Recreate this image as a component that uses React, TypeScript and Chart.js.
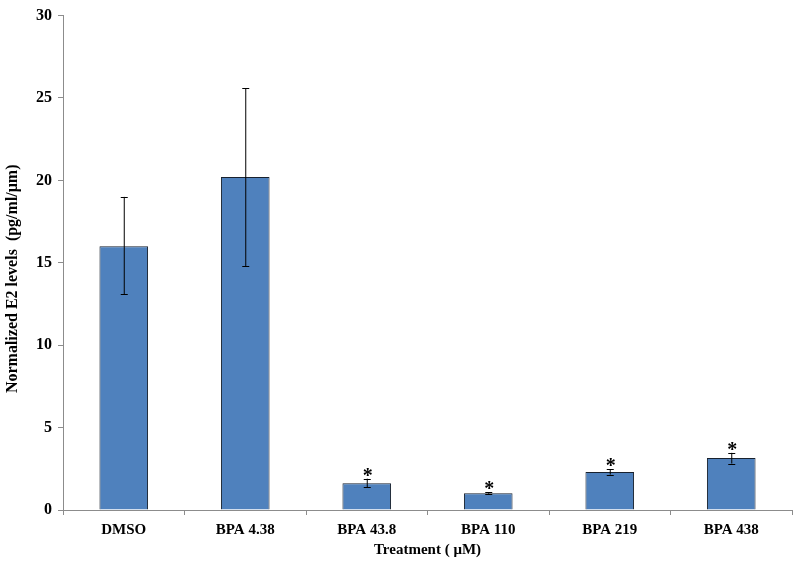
import React, { useEffect, useRef } from "react";
import { Chart, registerables } from "chart.js";

Chart.register(...registerables);

const categories = ["DMSO", "BPA 4.38", "BPA 43.8", "BPA 110", "BPA 219", "BPA 438"];
const means = [16.0, 20.2, 1.62, 1.02, 2.3, 3.15];
const errLow = [13.1, 14.8, 1.37, 0.98, 2.15, 2.82];
const errHigh = [19.0, 25.6, 1.9, 1.07, 2.47, 3.47];
const significant = [false, false, true, true, true, true];
const yTicks = [0, 5, 10, 15, 20, 25, 30];

const FONT = "'Liberation Serif', 'Times New Roman', serif";

const errorBarPlugin = {
  id: "errorBars",
  afterDatasetsDraw(chart: any) {
    const { ctx, scales } = chart;
    const meta = chart.getDatasetMeta(0);
    ctx.save();
    meta.data.forEach((bar: any, i: number) => {
      const x = bar.x;
      const yl = scales.y.getPixelForValue(errLow[i]);
      const yh = scales.y.getPixelForValue(errHigh[i]);
      ctx.strokeStyle = "#000";
      ctx.lineWidth = 1;
      ctx.beginPath();
      ctx.moveTo(x + 0.5, yl);
      ctx.lineTo(x + 0.5, yh);
      ctx.moveTo(x - 3, Math.round(yl) + 0.5);
      ctx.lineTo(x + 4, Math.round(yl) + 0.5);
      ctx.moveTo(x - 3, Math.round(yh) + 0.5);
      ctx.lineTo(x + 4, Math.round(yh) + 0.5);
      ctx.stroke();
      if (significant[i]) {
        ctx.fillStyle = "#000";
        ctx.font = `bold 20px ${FONT}`;
        ctx.textAlign = "center";
        ctx.textBaseline = "alphabetic";
        ctx.fillText("*", x + 1, yh + 3);
      }
    });
    ctx.restore();
  },
};

export default function App() {
  const ref = useRef<HTMLCanvasElement | null>(null);
  useEffect(() => {
    document.body.style.margin = "0";
    const chart = new Chart(ref.current as HTMLCanvasElement, {
      type: "bar",
      data: {
        labels: categories,
        datasets: [
          {
            data: means,
            backgroundColor: "#4F81BD",
            borderColor: "#18212e",
            borderWidth: 1,
            barPercentage: 0.4,
            categoryPercentage: 1,
          },
        ],
      },
      options: {
        responsive: false,
        animation: false,
        layout: { padding: { top: 13, right: 8, left: 0, bottom: 0 } },
        plugins: { legend: { display: false }, tooltip: { enabled: false } },
        scales: {
          x: {
            offset: true,
            grid: {
              offset: true,
              drawOnChartArea: false,
              drawTicks: true,
              tickLength: 5,
              color: "#8c8c8c",
            },
            border: { color: "#8c8c8c", width: 1 },
            ticks: {
              color: "#000",
              font: { family: FONT, size: 15, weight: "bold" },
              padding: 6,
            },
            title: {
              display: true,
              text: "Treatment ( μM)",
              color: "#000",
              font: { family: FONT, size: 15, weight: "bold" },
              padding: { top: 0, bottom: 4 },
            },
            afterFit(scale: any) {
              scale.height = 53;
            },
          },
          y: {
            min: 0,
            max: 30,
            afterBuildTicks(scale: any) {
              scale.ticks = yTicks.map((v) => ({ value: v }));
            },
            grid: {
              drawOnChartArea: false,
              drawTicks: true,
              tickLength: 5,
              color: "#8c8c8c",
            },
            border: { color: "#8c8c8c", width: 1 },
            ticks: {
              color: "#000",
              font: { family: FONT, size: 16, weight: "bold" },
              padding: 6,
            },
            title: {
              display: true,
              text: "Normalized E2 levels  (pg/ml/μm)        ",
              color: "#000",
              font: { family: FONT, size: 16, weight: "bold" },
              padding: { top: 3, bottom: 4 },
            },
            afterFit(scale: any) {
              scale.width = 63;
            },
          },
        },
      },
      plugins: [errorBarPlugin],
    });
    return () => chart.destroy();
  }, []);
  return (
    <canvas
      ref={ref}
      width={800}
      height={563}
      style={{ position: "absolute", left: 0, top: 0, width: 800, height: 563 }}
    />
  );
}
